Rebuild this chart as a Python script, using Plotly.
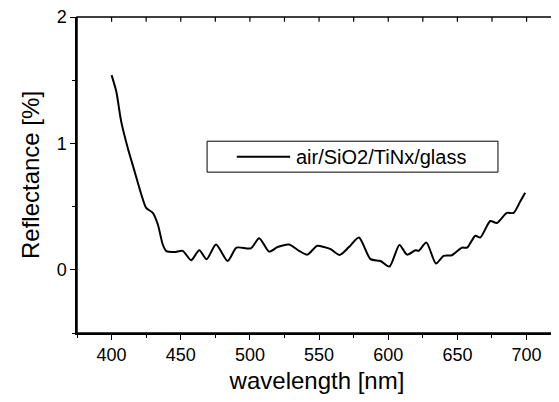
import plotly.graph_objects as go

# Data
wavelength = [400, 403.4, 407, 411.8, 416.6, 421.4, 425, 429.8, 433.4, 437, 439.4, 445.4, 451.4,
              457.5, 463.4, 468.7, 475.5, 483.9, 490.3, 500.7, 506.7, 513.9, 520, 528.3, 535.5,
              541.5, 548.7, 553.6, 558.4, 564.9, 571.6, 578.8, 587.2, 594.4, 600.9, 608.1, 613.6,
              619.7, 622, 627.6, 634.5, 640, 646, 653.2, 657, 663, 666.5, 673.8, 678.5, 685.7,
              690.6, 695.4, 699]
reflectance = [1.54, 1.41, 1.17, 0.96, 0.78, 0.60, 0.49, 0.45, 0.36, 0.20, 0.15, 0.14, 0.15,
               0.076, 0.155, 0.084, 0.20, 0.07, 0.175, 0.17, 0.25, 0.144, 0.18, 0.20, 0.15,
               0.12, 0.19, 0.18, 0.163, 0.118, 0.18, 0.255, 0.084, 0.07, 0.026, 0.197, 0.12,
               0.155, 0.15, 0.215, 0.05, 0.11, 0.115, 0.175, 0.175, 0.27, 0.255, 0.386, 0.37,
               0.45, 0.45, 0.54, 0.61]
series_name = "air/SiO2/TiNx/glass"
# tick positions on the top and right frame edges (major + minor)
top_ticks = [400, 425, 450, 475, 500, 525, 550, 575, 600, 625, 650, 675, 700]
right_ticks = [-0.5, 0, 0.5, 1, 1.5]

font = "Liberation Sans, Arial, sans-serif"

fig = go.Figure()
fig.add_trace(go.Scatter(
    x=wavelength, y=reflectance, mode="lines",
    line=dict(color="black", width=2, shape="spline", smoothing=0.7),
    name=series_name, showlegend=False
))

tickfont = dict(family=font, size=18, color="black")

# full frame round the plot area
fig.add_shape(type="rect", xref="paper", yref="paper", x0=0, x1=1, y0=0, y1=1,
              line=dict(color="black", width=1.5), layer="above")
# inward ticks on the top and right edges
for t in top_ticks:
    fig.add_shape(type="line", xref="x", yref="paper", x0=t, x1=t, y0=1, y1=0.985,
                  line=dict(color="black", width=1.2))
for t in right_ticks:
    fig.add_shape(type="line", xref="paper", yref="y", x0=1, x1=0.992, y0=t, y1=t,
                  line=dict(color="black", width=1.2))

# legend drawn by hand (box, line sample, label) in paper coordinates
fig.add_shape(type="rect", xref="paper", yref="paper", x0=0.271, x1=0.877, y0=0.509, y1=0.607,
              line=dict(color="black", width=1), fillcolor="white", layer="above")
fig.add_shape(type="line", xref="paper", yref="paper", x0=0.333, x1=0.444, y0=0.558, y1=0.558,
              line=dict(color="black", width=2), layer="above")
fig.add_annotation(text=series_name, xref="paper", yref="paper", x=0.452, y=0.558,
                   xanchor="left", yanchor="middle", showarrow=False,
                   font=dict(family=font, size=20, color="black"))

# page body adds an 8px offset, so the figure is shrunk by that much
fig.update_layout(
    width=551, height=394,
    margin=dict(l=69, r=2, t=9, b=69),
    paper_bgcolor="white", plot_bgcolor="white",
    font=dict(family=font, color="black"),
    showlegend=False,
    xaxis=dict(range=[375, 722], tick0=400, dtick=50, ticks="outside", ticklen=5,
               tickwidth=1.2, tickcolor="black", showline=True,
               linecolor="black", linewidth=1.5, showgrid=False, zeroline=False,
               tickfont=tickfont, automargin=False, ticklabeloverflow="allow",
               minor=dict(dtick=25, ticks="outside", ticklen=3, tickcolor="black"),
               title=dict(text="wavelength [nm]", font=dict(family=font, size=24), standoff=8)),
    yaxis=dict(range=[-0.5, 2], tick0=0, dtick=1, ticks="outside", ticklen=5,
               tickwidth=1.2, tickcolor="black", showline=True,
               linecolor="black", linewidth=1.5, showgrid=False, zeroline=False,
               tickfont=tickfont, automargin=False, ticklabeloverflow="allow",
               minor=dict(dtick=0.5, ticks="outside", ticklen=3, tickcolor="black"),
               title=dict(text="Reflectance [%]", font=dict(family=font, size=24), standoff=10)),
)

fig.write_html("out.html")
